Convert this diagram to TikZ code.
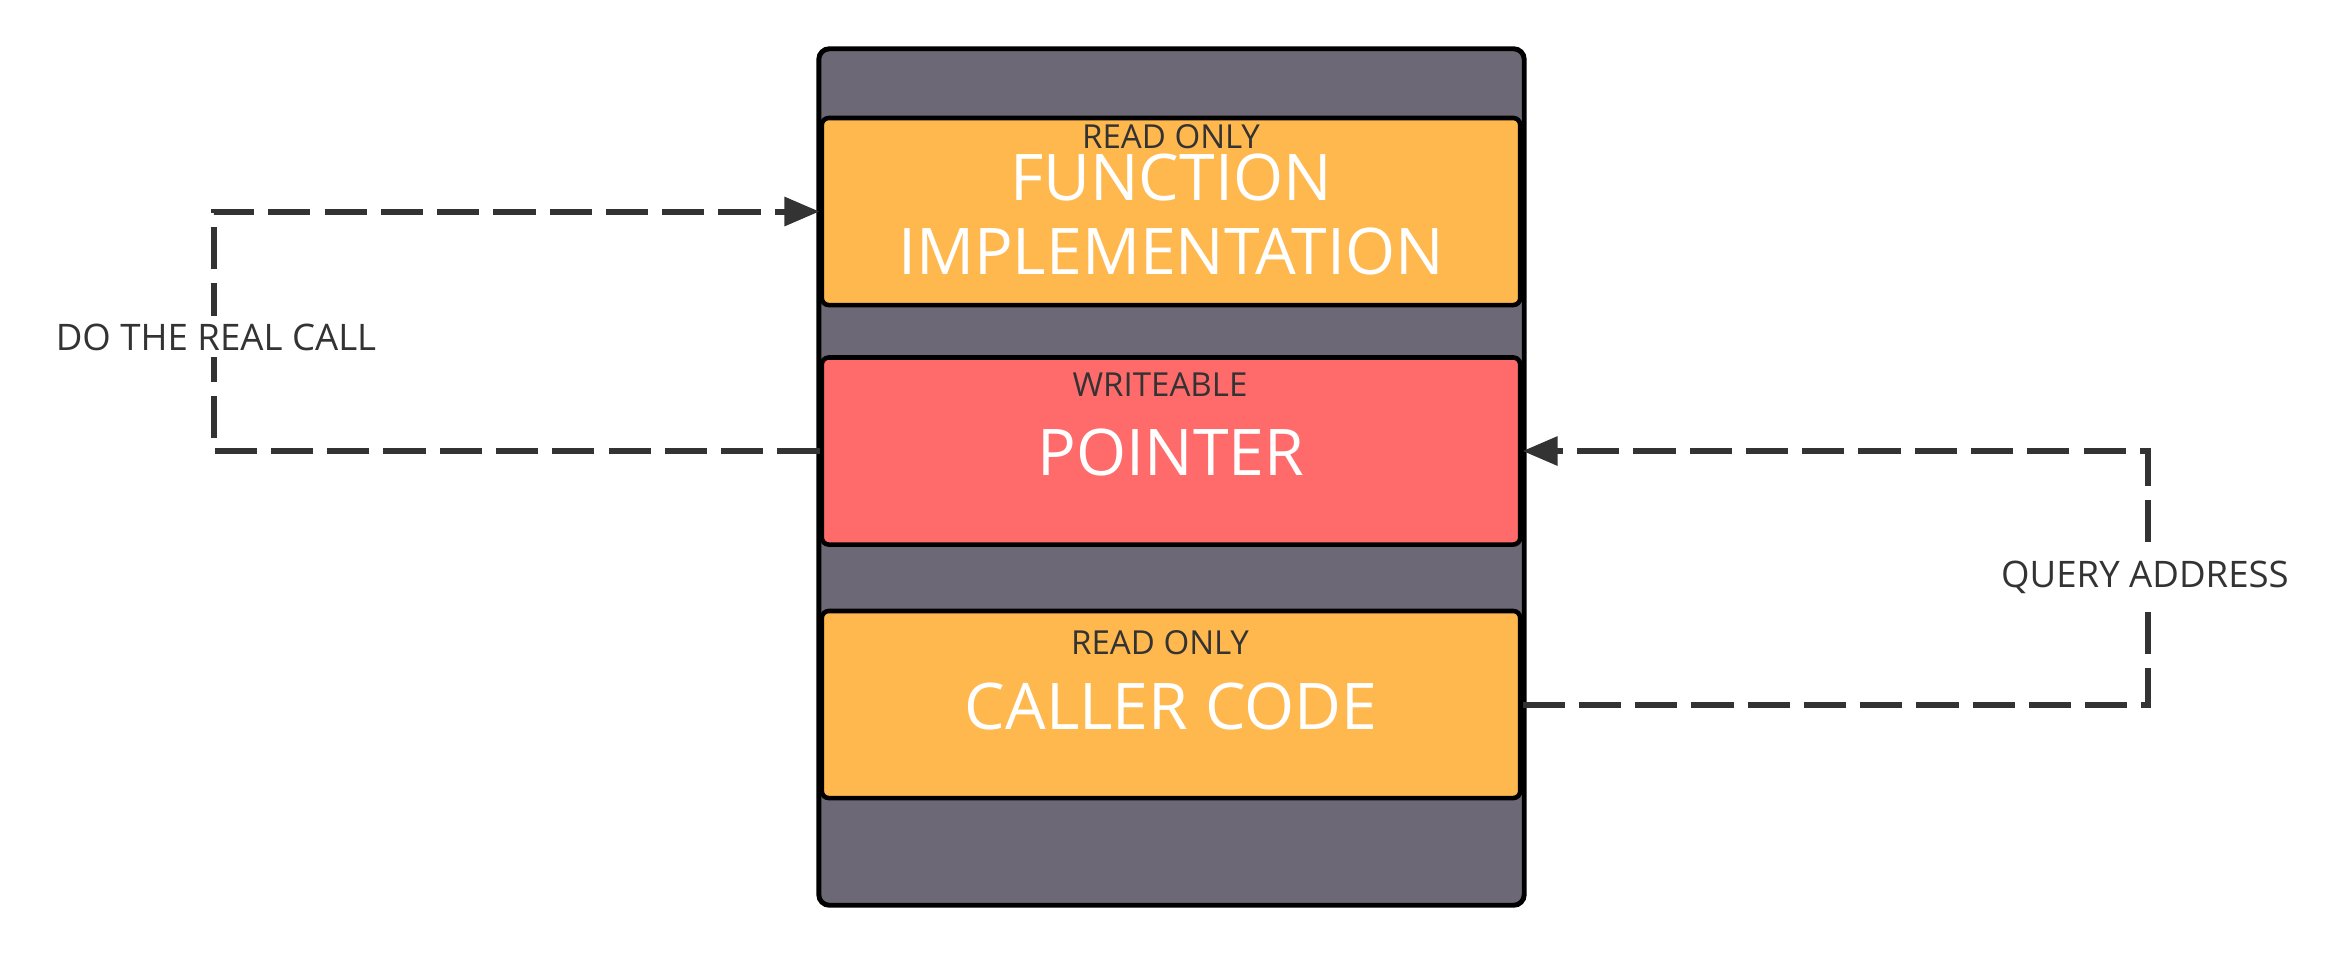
\documentclass[tikz,border=0pt]{standalone}
\usepackage{fontspec}
\setmainfont{Open Sans}
\usetikzlibrary{arrows.meta}

\definecolor{memgray}{HTML}{6D6875}
\definecolor{roorange}{HTML}{FEB84E}
\definecolor{rwred}{HTML}{FF6B6B}
\definecolor{ink}{HTML}{333333}

\tikzset{
  segment/.style={draw=black, line width=1.3pt, rounded corners=2pt,
    minimum width=6.98cm, minimum height=1.87cm, inner sep=0pt},
  tag/.style={text=ink, font=\fontsize{9.4}{10}\selectfont, anchor=base, inner sep=0pt},
  title/.style={text=white, font=\fontsize{18.3}{20}\selectfont, anchor=base, inner sep=0pt},
  flow/.style={draw=ink, line width=1.7pt, dash pattern=on 12pt off 4pt},
  note/.style={fill=white, text=ink, font=\fontsize{10.4}{12}\selectfont, anchor=base, inner sep=2pt},
}

\begin{document}
\begin{tikzpicture}[x=0.01cm, y=-0.01cm]

  \useasboundingbox (0,0) rectangle (2343,956);

  % memory block
  \node[draw=black, line width=1.4pt, rounded corners=3pt, fill=memgray,
    minimum width=7.05cm, minimum height=8.56cm, inner sep=0pt] (memory) at (1171.5,477) {};

  \node[segment, fill=roorange] (impl) at (1171,211.5) {};
  \node[segment, fill=rwred] (ptr) at (1171,451) {};
  \node[segment, fill=roorange] (caller) at (1171,704.5) {};

  % texts
  \node[tag] (implTag) at (1171,148) {READ ONLY};
  \node[title] (implA) at (1171,200) {FUNCTION};
  \node[title] (implB) at (1171,274) {IMPLEMENTATION};

  \node[tag] (ptrTag) at (1160,396) {WRITEABLE};
  \node[title] (ptrText) at (1171,475) {POINTER};

  \node[tag] (callerTag) at (1160,654) {READ ONLY};
  \node[title] (callerText) at (1171,729) {CALLER CODE};

  % connectors
  \draw[flow, -{Triangle[length=10pt, width=8pt]}] (ptr.west) -- ++(-606,0) |- (impl.west);
  \draw[flow, -{Triangle[length=10pt, width=8pt]}] (caller.east) -- ++(625,0) |- (ptr.east);

  \node[note] (realCall) at (216,350) {DO THE REAL CALL};
  \node[note] (queryAddr) at (2145,587) {QUERY ADDRESS};

\end{tikzpicture}
\end{document}
